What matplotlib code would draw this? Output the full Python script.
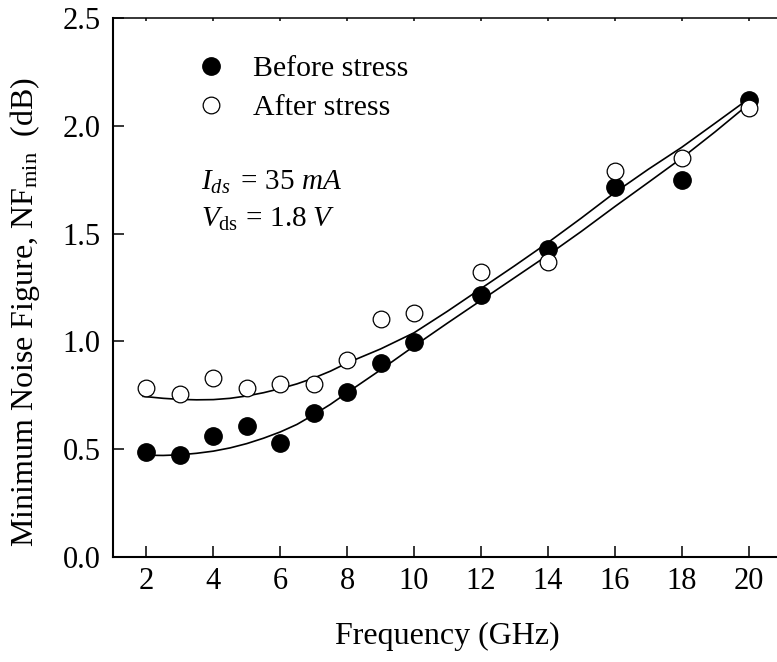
import numpy as np
import matplotlib
matplotlib.use('Agg')
import matplotlib.pyplot as plt

# measured NFmin (dB)
freq = [2, 3, 4, 5, 6, 7, 8, 9, 10, 12, 14, 16, 18, 20]
nf_before = [0.485, 0.472, 0.560, 0.608, 0.529, 0.669, 0.763, 0.902, 0.998,
             1.215, 1.427, 1.718, 1.749, 2.120]
nf_after = [0.785, 0.754, 0.831, 0.782, 0.802, 0.802, 0.916, 1.103, 1.130,
            1.323, 1.370, 1.790, 1.852, 2.082]

# fitted curves
fit_freq = [1.9, 2.5, 3, 3.5, 4, 4.5, 5, 5.5, 6, 6.5, 7, 7.5, 8, 9, 10, 11, 12,
            13, 14, 15, 16, 17, 18, 19, 20]
fit_before = [0.472, 0.471, 0.474, 0.481, 0.491, 0.506, 0.526, 0.551, 0.580,
              0.615, 0.660, 0.708, 0.762, 0.868, 0.978, 1.085, 1.190, 1.295,
              1.400, 1.510, 1.625, 1.737, 1.850, 1.972, 2.100]
fit_after = [0.745, 0.736, 0.731, 0.729, 0.730, 0.736, 0.747, 0.762, 0.781,
             0.803, 0.830, 0.862, 0.900, 0.965, 1.040, 1.140, 1.245, 1.350,
             1.458, 1.572, 1.690, 1.798, 1.900, 2.012, 2.125]

plt.rcParams['font.family'] = 'Liberation Serif'
plt.rcParams['mathtext.fontset'] = 'custom'
plt.rcParams['mathtext.rm'] = 'Liberation Serif'
plt.rcParams['mathtext.it'] = 'Liberation Serif:italic'
plt.rcParams['font.size'] = 22

W, H = 777, 662
fig = plt.figure(figsize=(W / 100, H / 100), dpi=100)
# axes box in pixels: left 113, right 782 (just past the edge), top 18, bottom 557
ax = fig.add_axes([113 / W, (H - 557) / H, (782 - 113) / W, (557 - 18) / H])

ax.plot(fit_freq, fit_before, color='black', lw=1.2, zorder=2)
ax.plot(fit_freq, fit_after, color='black', lw=1.2, zorder=2)
ax.plot(freq, nf_before, 'o', ms=12.5, color='black', mec='black', ls='none',
        label='Before stress', zorder=3)
ax.plot(freq, nf_after, 'o', ms=12, mfc='white', mec='black', mew=0.9,
        ls='none', label='After stress', zorder=3)

ax.set_xlim(1, 21)
ax.set_ylim(0, 2.5)
ax.set_xticks(np.arange(2, 21, 2))
ax.set_yticks(np.arange(0, 2.51, 0.5))
ax.yaxis.set_major_formatter(matplotlib.ticker.FormatStrFormatter('%.1f'))

ax.tick_params(axis='x', direction='in', length=8, width=1.1, pad=7.5,
               top=True, labelsize=22)
ax.tick_params(axis='y', direction='in', length=8, width=1.1, pad=9,
               labelsize=22)
# short ticks on the top spine
for t in ax.xaxis.get_major_ticks():
    t.tick2line.set_markersize(2.5)

ax.spines['left'].set_linewidth(1.5)
ax.spines['bottom'].set_linewidth(1.5)
ax.spines['top'].set_linewidth(1.1)
ax.spines['right'].set_linewidth(1.5)

ax.set_xlabel('Frequency (GHz)', fontsize=23)
ax.xaxis.set_label_coords(0.5, -0.12)
ax.set_ylabel(r'Minimum Noise Figure, NF$_{\rm min}$  (dB)', fontsize=23)
ax.yaxis.set_label_coords(-0.106, 0.455)

leg = ax.legend(loc='upper left', bbox_to_anchor=((196 - 113) / 669, 0.9305),
                frameon=False, handlelength=1.0, handletextpad=0.9,
                borderpad=0, borderaxespad=0, labelspacing=0.4,
                fontsize=21.5)

ax.text(201, H - 190, r'$I_{ds}\ =\,\mathit{35\ mA}$', transform=None,
        fontsize=21, va='baseline', ha='left')
ax.text(201, H - 227, r'$V_{\rm ds}\,=\,\mathrm{1.8}\ V$', transform=None,
        fontsize=21, va='baseline', ha='left')

fig.savefig('out.png', dpi=100)
